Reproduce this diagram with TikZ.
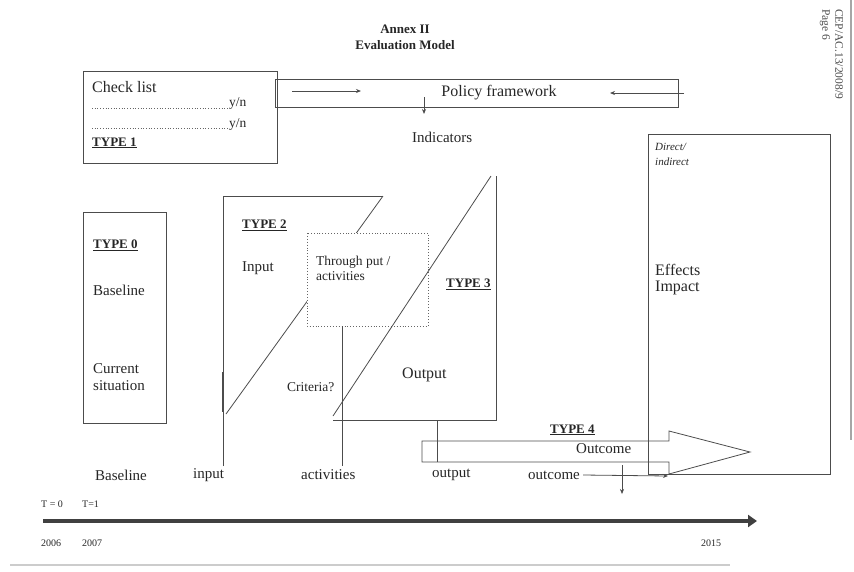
\documentclass[tikz,border=0pt]{standalone}
\usepackage{fontspec}
\setmainfont{Liberation Serif}
\usetikzlibrary{arrows.meta}
\begin{document}
\begin{tikzpicture}[x=1pt,y=-1pt,
  ln/.style={draw=black!70,line width=0.8pt},
  txt/.style={inner sep=0pt,anchor=west,text=black!85,font=\fontsize{15}{17}\selectfont},
  big/.style={txt,font=\fontsize{16}{18}\selectfont},
  sm/.style={txt,font=\fontsize{13.5}{15}\selectfont},
  typelbl/.style={txt,font=\bfseries\fontsize{13}{15}\selectfont},
  tinytxt/.style={txt,font=\fontsize{10}{11}\selectfont},
  sidetxt/.style={txt,font=\fontsize{11.5}{13}\selectfont,text=black!70},
  ttl/.style={inner sep=0pt,text=black!85,font=\bfseries\fontsize{13}{15}\selectfont},
  arr/.style={ln,-{Stealth[length=5pt,width=4pt]}},
  dots/.style={draw=black!60,dotted,line width=0.7pt}
]
\useasboundingbox (0,0) rectangle (854,571);

% title and page reference
\node[ttl] (t1) at (405,29) {Annex II};
\node[ttl] (t2) at (405,45) {Evaluation Model};
\node[sidetxt,rotate=-90,anchor=west] (ref) at (839,9) {CEP/AC.13/2008/9};
\node[sidetxt,rotate=-90,anchor=west] (pg) at (825,9) {Page 6};
\draw[draw=black!35,line width=1.2pt] (851,0) -- (851,440);
\draw[draw=black!20,line width=2pt] (10,565) -- (730,565);

% check list (TYPE 1)
\draw[ln] (83,71) rectangle (277,163);
\node[big] (chk) at (92,87) {Check list};
\draw[dots] (92,108) -- (228,108);
\node[sm] (yn1) at (229,104) {y/n};
\draw[dots] (92,128) -- (229,128);
\node[sm] (yn2) at (229,125) {y/n};
\node[typelbl] (ty1) at (92,143) {\underline{TYPE 1}};

% policy framework
\draw[ln] (275,79) rectangle (678,107);
\node[big,anchor=center] (pf) at (499,93) {Policy framework};
\coordinate (pa1) at (292,91); \coordinate (pa2) at (361,91);
\draw[arr] (pa1) -- (pa2);
\coordinate (pb1) at (684,93); \coordinate (pb2) at (610,93);
\draw[arr] (pb1) -- (pb2);
\coordinate (pc1) at (424,97); \coordinate (pc2) at (424,114);
\draw[arr] (pc1) -- (pc2);
\node[txt] (ind) at (412,137) {Indicators};

% TYPE 0
\draw[ln] (83,212) rectangle (166,423);
\node[typelbl] (ty0) at (93,245) {\underline{TYPE 0}};
\node[txt] (bl) at (93,290) {Baseline};
\node[txt] (cur) at (93,369) {Current};
\node[txt] (sit) at (93,386) {situation};

% TYPE 2
\draw[ln] (223,466) -- (223,196) -- (383,196);
\draw[ln,line width=1.6pt] (223,372) -- (223,412);
\draw[ln] (383,196) -- (226,414);
\node[typelbl] (ty2) at (242,225) {\underline{TYPE 2}};
\node[txt] (inp) at (242,268) {Input};
\node[sm] (crit) at (287,387) {Criteria?};

% throughput box
\draw[dots,fill=white,line width=0.9pt] (307,233) rectangle (428,326);
\node[sm] (tp1) at (316,262) {Through put /};
\node[sm] (tp2) at (316,276) {activities};

% TYPE 3
\draw[ln] (491,176) -- (333,416);
\draw[ln] (496,176) -- (496,420) -- (333,420);
\draw[ln] (342,326) -- (342,466);
\draw[ln] (437,420) -- (437,462);
\node[typelbl] (ty3) at (446,284) {\underline{TYPE 3}};
\node[big] (outp) at (402,375) {Output};

% Effects / impact
\draw[ln] (648,134) rectangle (830,474);
\node[txt,font=\itshape\fontsize{11}{12}\selectfont] (dir1) at (655,147) {Direct/};
\node[txt,font=\itshape\fontsize{11}{12}\selectfont] (dir2) at (655,162) {indirect};
\node[big] (eff) at (655,270) {Effects};
\node[big] (imp) at (655,288) {Impact};

% TYPE 4 arrow
\draw[ln] (422,441) -- (669,441) -- (669,431) -- (750,452) -- (669,474) -- (669,462) -- (422,462) -- cycle;
\node[typelbl] (ty4) at (550,430) {\underline{TYPE 4}};
\node[txt] (outc) at (576,449) {Outcome};

% bottom labels
\node[txt] (lb1) at (95,475) {Baseline};
\node[txt] (lb2) at (193,475) {input};
\node[txt] (lb3) at (301,475) {activities};
\node[txt] (lb4) at (432,475) {output};
\node[txt] (lb5) at (528,475) {outcome};
\coordinate (oa) at (668,476);
\draw[arr] ([xshift=3pt]lb5.east) -- (oa);
\coordinate (od1) at (622,465); \coordinate (od2) at (622,494);
\draw[arr,line width=0.6pt] (od1) -- (od2);

% timeline
\node[tinytxt] (tz) at (41,504) {T = 0};
\node[tinytxt] (to) at (82,504) {T=1};
\coordinate (tl1) at (43,521); \coordinate (tl2) at (757,521);
\draw[draw=black!75,line width=4.5pt,-{Triangle[length=9pt,width=12pt]}] (tl1) -- (tl2);
\node[tinytxt] (y1) at (41,543) {2006};
\node[tinytxt] (y2) at (82,543) {2007};
\node[tinytxt] (y3) at (701,543) {2015};
\end{tikzpicture}
\end{document}
